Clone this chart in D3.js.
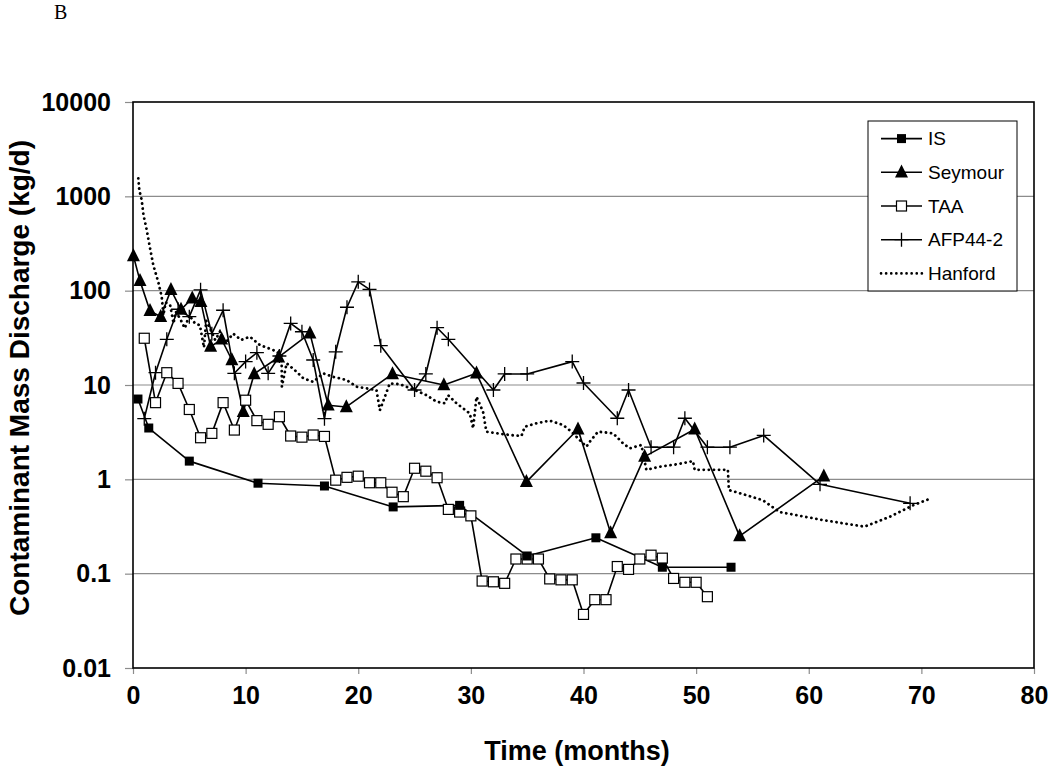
<!DOCTYPE html>
<html>
<head>
<meta charset="utf-8">
<script src="https://cdn.jsdelivr.net/npm/d3@7"></script>
<style>
  html, body { margin: 0; padding: 0; background: #fff; }
  svg { display: block; }
</style>
</head>
<body>
<svg id="chart" width="1050" height="771"></svg>
<script>
// ---------------- data ----------------
const xTicks = [0, 10, 20, 30, 40, 50, 60, 70, 80];
const yTicks = [0.01, 0.1, 1, 10, 100, 1000, 10000];
const yTickLabels = ["0.01", "0.1", "1", "10", "100", "1000", "10000"];
const seriesNames = ["IS", "Seymour", "TAA", "AFP44-2", "Hanford"];

const isX = [0.44, 1.4, 5.0, 11.1, 17.0, 23.1, 29.0, 35.0, 41.1, 47.0, 53.1];
const isY = [7.1, 3.5, 1.56, 0.91, 0.85, 0.51, 0.53, 0.154, 0.24, 0.117, 0.117];

const seymourX = [0.04, 0.62, 1.51, 2.46, 3.37, 4.26, 5.26, 6.03, 6.89, 7.87, 8.78, 9.79, 10.76, 12.93, 15.71, 17.33, 18.94, 23.04, 27.6, 30.5, 34.93, 39.51, 42.41, 45.43, 49.87, 53.86, 61.34];
const seymourY = [233, 127, 61, 53, 102, 63, 83, 76, 25.5, 30.5, 18.4, 5.2, 13.1, 19.7, 35.3, 6.1, 5.85, 13.1, 10, 13.3, 0.94, 3.4, 0.27, 1.74, 3.4, 0.25, 1.08];

const taaX = [1, 2, 3, 4, 5, 6, 7, 8, 9, 10, 11, 12, 13, 14, 15, 16, 17, 18, 19, 20, 21, 22, 23, 24, 25, 26, 27, 28, 29, 30, 31, 32, 33, 34, 35, 36, 37, 38, 39, 40, 41, 42, 43, 44, 45, 46, 47, 48, 49, 50, 51];
const taaY = [31.3, 6.5, 13.5, 10.4, 5.5, 2.76, 3.07, 6.5, 3.33, 6.9, 4.19, 3.83, 4.61, 2.88, 2.8, 2.95, 2.85, 0.98, 1.05, 1.08, 0.92, 0.92, 0.73, 0.655, 1.31, 1.22, 1.04, 0.48, 0.45, 0.41, 0.0835, 0.082, 0.079, 0.143, 0.143, 0.143, 0.088, 0.086, 0.086, 0.037, 0.053, 0.053, 0.119, 0.111, 0.143, 0.157, 0.146, 0.089, 0.081, 0.081, 0.057];

const afpX = [1, 2, 3, 4, 5, 6, 7, 8, 9, 10, 11, 12, 13, 14, 15, 16, 17, 18, 19, 20, 21, 22, 25, 26, 27, 28, 32, 33, 35, 39, 40, 43, 44, 46, 48, 49, 51, 53, 56, 61, 69];
const afpY = [4.4, 13.5, 30.5, 63.5, 53, 102, 35, 62, 13.3, 17.7, 22, 13.3, 20.3, 45, 36.7, 18.4, 4.4, 22.5, 66.7, 124, 103, 26.1, 8.85, 13.1, 40.5, 30.5, 8.85, 13.1, 13.1, 17.7, 10.5, 4.44, 8.85, 2.19, 2.19, 4.44, 2.19, 2.19, 2.92, 0.885, 0.557];

const hanfordX = [0.47, 0.56, 0.77, 0.93, 1.22, 1.51, 1.8, 2.24, 2.55, 2.7, 2.9, 3.3, 3.6, 3.8, 4.2, 4.6, 5.0, 5.5, 5.94, 6.3, 6.5, 6.83, 7.3, 7.72, 8.2, 8.9, 9.6, 10.38, 11.27, 12.45, 13.19, 13.22, 13.64, 14.53, 15.11, 16.0, 16.89, 17.77, 18.96, 19.85, 20.74, 21.62, 21.92, 22.8, 23.69, 25.02, 26.06, 26.95, 27.68, 27.98, 28.72, 29.9, 30.2, 30.5, 31.08, 31.38, 32.27, 33.45, 34.49, 34.78, 35.82, 37.0, 38.18, 38.93, 39.66, 40.26, 40.55, 41.29, 42.62, 43.51, 44.1, 45.14, 45.58, 46.76, 48.24, 49.72, 49.87, 51.49, 52.82, 52.91, 54.46, 55.93, 57.41, 61.25, 64.95, 67.17, 69.24, 70.87];
const hanfordY = [1553, 1166, 914, 634, 440, 283, 187, 124, 86, 55, 75, 70, 45, 60, 50, 40, 55, 45, 43, 25, 48, 40, 30, 36.7, 28, 35, 30, 32.5, 26.5, 23.5, 20.8, 9.6, 17, 13.8, 11.8, 10.8, 13.3, 12.2, 11.3, 9.6, 9.2, 8.85, 5.4, 10.4, 10.2, 8.85, 7.8, 6.65, 6.4, 7.8, 6.4, 5.0, 3.47, 7.5, 5.2, 3.2, 3.08, 2.95, 2.88, 3.61, 3.93, 4.19, 3.77, 3.2, 2.61, 2.22, 2.5, 3.2, 3.08, 2.41, 2.13, 2.31, 1.26, 1.36, 1.44, 1.56, 1.26, 1.26, 1.26, 0.77, 0.68, 0.60, 0.45, 0.37, 0.315, 0.40, 0.53, 0.63];

// ---------------- layout ----------------
const L = 133, R = 1034, T = 102, B = 668;
const svg = d3.select("#chart");
const x = d3.scaleLinear().domain([0, 80]).range([L, R]);
const y = d3.scaleLog().domain([0.01, 10000]).range([B, T]);
const FONT = "'Liberation Sans', Arial, Helvetica, sans-serif";

// "B" panel label
svg.append("text").attr("x", 54).attr("y", 19)
  .attr("font-family", "'Liberation Serif', 'Times New Roman', serif")
  .attr("font-size", 20).text("B");

// gridlines
svg.append("g").selectAll("line")
  .data(yTicks.filter(v => v > 0.01 && v < 10000))
  .join("line")
  .attr("x1", L).attr("x2", R)
  .attr("y1", d => y(d)).attr("y2", d => y(d))
  .attr("stroke", "#8c8c8c").attr("stroke-width", 1.2);

// axes
const yAxis = d3.axisLeft(y).tickValues(yTicks)
  .tickFormat((d, i) => yTickLabels[i]).tickSize(8).tickPadding(14);
const gy = svg.append("g").attr("transform", `translate(${L},0)`).call(yAxis);
gy.select(".domain").remove();
gy.selectAll(".tick line").attr("stroke", "#8c8c8c").attr("stroke-width", 1.2);
gy.selectAll("text").attr("font-family", FONT).attr("font-weight", "bold")
  .attr("font-size", 25).attr("fill", "#000");

const xAxis = d3.axisBottom(x).tickValues(xTicks).tickFormat(d3.format("d"))
  .tickSize(6).tickPadding(12);
const gx = svg.append("g").attr("transform", `translate(0,${B})`).call(xAxis);
gx.select(".domain").remove();
gx.selectAll(".tick line").attr("stroke", "#8c8c8c").attr("stroke-width", 1.2);
gx.selectAll("text").attr("font-family", FONT).attr("font-weight", "bold")
  .attr("font-size", 25).attr("fill", "#000");

// plot frame
svg.append("rect").attr("x", L).attr("y", T).attr("width", R - L).attr("height", B - T)
  .attr("fill", "none").attr("stroke", "#000").attr("stroke-width", 1.6);

// axis titles
svg.append("text")
  .attr("transform", `translate(29,378) rotate(-90)`)
  .attr("text-anchor", "middle")
  .attr("font-family", FONT).attr("font-weight", "bold").attr("font-size", 28)
  .text("Contaminant Mass Discharge (kg/d)");
svg.append("text")
  .attr("x", 577).attr("y", 760)
  .attr("text-anchor", "middle")
  .attr("font-family", FONT).attr("font-weight", "bold").attr("font-size", 27)
  .text("Time (months)");

// ---------------- series ----------------
const line = d3.line().x(d => x(d[0])).y(d => y(d[1]));
const zip = (a, b) => a.map((v, i) => [v, b[i]]);

const hanford = zip(hanfordX, hanfordY);
const isData = zip(isX, isY);
const seymour = zip(seymourX, seymourY);
const taa = zip(taaX, taaY);
const afp = zip(afpX, afpY);

const plot = svg.append("g");

// Hanford dotted
plot.append("path").datum(hanford).attr("d", line)
  .attr("fill", "none").attr("stroke", "#000").attr("stroke-width", 2.8)
  .attr("stroke-linecap", "round").attr("stroke-dasharray", "0.1,5");

function solid(data) {
  plot.append("path").datum(data).attr("d", line)
    .attr("fill", "none").attr("stroke", "#000").attr("stroke-width", 1.6)
    .attr("stroke-linejoin", "round");
}
solid(afp); solid(seymour); solid(taa); solid(isData);

// markers
function drawSquareFilled(g, cx, cy) {
  g.append("rect").attr("x", cx - 4.5).attr("y", cy - 4.5).attr("width", 9).attr("height", 9)
    .attr("fill", "#000");
}
function drawTriangle(g, cx, cy) {
  const s = 13;
  g.append("path")
    .attr("d", `M${cx},${cy - s * 0.6}L${cx + s / 2},${cy + s * 0.4}L${cx - s / 2},${cy + s * 0.4}Z`)
    .attr("fill", "#000");
}
function drawSquareOpen(g, cx, cy) {
  g.append("rect").attr("x", cx - 5).attr("y", cy - 5).attr("width", 10).attr("height", 10)
    .attr("fill", "#fff").attr("stroke", "#000").attr("stroke-width", 1.2);
}
function drawPlus(g, cx, cy) {
  g.append("path").attr("d", `M${cx - 7},${cy}H${cx + 7}M${cx},${cy - 7}V${cy + 7}`)
    .attr("stroke", "#000").attr("stroke-width", 1.3).attr("fill", "none");
}

const mk = plot.append("g");
afp.forEach(d => drawPlus(mk, x(d[0]), y(d[1])));
seymour.forEach(d => drawTriangle(mk, x(d[0]), y(d[1])));
taa.forEach(d => drawSquareOpen(mk, x(d[0]), y(d[1])));
isData.forEach(d => drawSquareFilled(mk, x(d[0]), y(d[1])));

// ---------------- legend ----------------
const lg = svg.append("g");
lg.append("rect").attr("x", 868).attr("y", 121).attr("width", 149).attr("height", 170)
  .attr("fill", "#fff").attr("stroke", "#000").attr("stroke-width", 1);
const markers = [drawSquareFilled, drawTriangle, drawSquareOpen, drawPlus, null];
seriesNames.forEach((name, i) => {
  const yy = 138.6 + i * 33.7;
  const ln = lg.append("line").attr("x1", 881).attr("x2", 922).attr("y1", yy).attr("y2", yy)
    .attr("stroke", "#000");
  if (markers[i]) {
    ln.attr("stroke-width", 1.6);
    markers[i](lg, 901.5, yy);
  } else {
    ln.attr("stroke-width", 2.6).attr("stroke-linecap", "round").attr("stroke-dasharray", "0.1,5");
  }
  lg.append("text").attr("x", 928).attr("y", yy + 6.5)
    .attr("font-family", FONT).attr("font-size", 19).text(name);
});
</script>
</body>
</html>
